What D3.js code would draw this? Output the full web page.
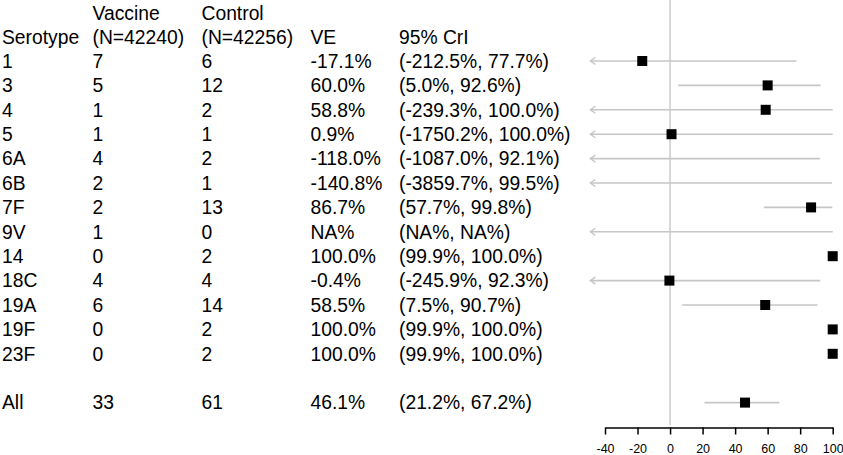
<!DOCTYPE html>
<html>
<head>
<meta charset="utf-8">
<script src="https://cdn.jsdelivr.net/npm/d3@7"></script>
<style>
  body { margin: 0; background: #fff; }
  text { font-family: "Liberation Sans", Arial, sans-serif; fill: #000; }
</style>
</head>
<body>
<div id="wrapper"></div>
<script>
// data
const serotypes = ["1", "3", "4", "5", "6A", "6B", "7F", "9V", "14", "18C", "19A", "19F", "23F", "All"]
const rowIndex = [0, 1, 2, 3, 4, 5, 6, 7, 8, 9, 10, 11, 12, 14]
const vaccineCases = [7, 5, 1, 1, 4, 2, 2, 1, 0, 4, 6, 0, 0, 33]
const controlCases = [6, 12, 2, 1, 2, 1, 13, 0, 2, 4, 14, 2, 2, 61]
const veValues = [-17.1, 60.0, 58.8, 0.9, -118.0, -140.8, 86.7, null, 100.0, -0.4, 58.5, 100.0, 100.0, 46.1]
const crLow = [-212.5, 5.0, -239.3, -1750.2, -1087.0, -3859.7, 57.7, null, 99.9, -245.9, 7.5, 99.9, 99.9, 21.2]
const crHigh = [77.7, 92.6, 100.0, 100.0, 92.1, 99.5, 99.8, null, 100.0, 92.3, 90.7, 100.0, 100.0, 67.2]
const xTicks = [-40, -20, 0, 20, 40, 60, 80, 100]

const fmt = v => v == null ? "NA%" : v.toFixed(1) + "%"

const width = 843
const height = 455
const clipLow = -49

const svg = d3.select("#wrapper")
  .append("svg")
  .attr("width", width)
  .attr("height", height)

const xScale = d3.scaleLinear()
  .domain([-40, 100])
  .range([605, 832.7])

const yScale = d3.scaleLinear()
  .domain([0, 14])
  .range([61, 402.6])

// text table
const cols = [
  {x: 2, head: [null, "Serotype"], get: i => serotypes[i]},
  {x: 92.5, head: ["Vaccine", "(N=42240)"], get: i => vaccineCases[i]},
  {x: 201.5, head: ["Control", "(N=42256)"], get: i => controlCases[i]},
  {x: 310.5, head: [null, "VE"], get: i => fmt(veValues[i])},
  {x: 399, head: [null, "95% CrI"], get: i => `(${fmt(crLow[i])}, ${fmt(crHigh[i])})`},
]

const table = svg.append("g").style("font-size", "19.3px")

cols.forEach(c => {
  c.head.forEach((h, k) => {
    if (h == null) return
    table.append("text")
      .attr("x", c.x)
      .attr("y", yScale(k - 2) + 1)
      .attr("dy", "0.35em")
      .text(h)
  })
  table.selectAll(null)
    .data(d3.range(serotypes.length))
    .join("text")
    .attr("x", c.x)
    .attr("y", i => yScale(rowIndex[i]))
    .attr("dy", "0.35em")
    .text(i => c.get(i))
})

// reference line at 0
svg.append("line")
  .attr("x1", xScale(0))
  .attr("x2", xScale(0))
  .attr("y1", 0)
  .attr("y2", 425)
  .attr("stroke", "#cccccc")
  .attr("stroke-width", 1.5)

// intervals
const plot = svg.append("g")
d3.range(serotypes.length).forEach(i => {
  const y = yScale(rowIndex[i])
  const lo = crLow[i] == null ? -Infinity : crLow[i]
  const hi = crHigh[i] == null ? 100 : crHigh[i]
  const x1 = xScale(Math.max(lo, clipLow))
  const x2 = xScale(hi)
  if (x2 - x1 > 1) {
    plot.append("line")
      .attr("x1", x1).attr("x2", x2)
      .attr("y1", y).attr("y2", y)
      .attr("stroke", "#c6c6c6")
      .attr("stroke-width", 1.6)
  }
  if (lo < clipLow) {
    plot.append("path")
      .attr("d", `M${x1 + 5},${y - 3.5}L${x1},${y}L${x1 + 5},${y + 3.5}`)
      .attr("fill", "none")
      .attr("stroke", "#c6c6c6")
      .attr("stroke-width", 1.4)
  }
  const v = veValues[i]
  if (v != null && v >= clipLow) {
    plot.append("rect")
      .attr("x", xScale(v) - 5)
      .attr("y", y - 5)
      .attr("width", 10)
      .attr("height", 10)
      .attr("fill", "#000")
  }
})

// x axis
const axis = svg.append("g")
  .attr("transform", "translate(0,427.5)")
  .call(d3.axisBottom(xScale).tickValues(xTicks).tickSize(7).tickSizeOuter(0).tickFormat(d => String(d)))

axis.select(".domain").attr("stroke", "#000").attr("stroke-width", 1.5)
axis.selectAll(".tick line").attr("stroke", "#000").attr("stroke-width", 1.5)
axis.selectAll(".tick text")
  .attr("y", 16.5)
  .style("font-size", "12.5px")
  .style("font-family", "'Liberation Sans', Arial, sans-serif")
  .attr("fill", "#000")
</script>
</body>
</html>
